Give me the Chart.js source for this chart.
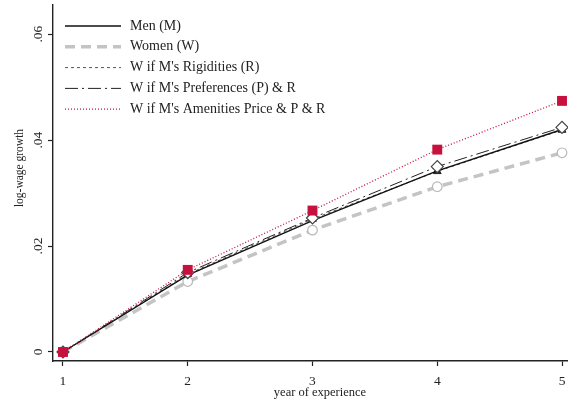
<!DOCTYPE html>
<html>
<head>
<meta charset="utf-8">
<script src="https://cdn.jsdelivr.net/npm/chart.js@4/dist/chart.umd.min.js"></script>
<style>
  html, body { margin: 0; padding: 0; background: #fff; }
  #wrap { width: 568px; height: 407px; position: relative; }
</style>
</head>
<body>
<div id="wrap"><canvas id="chart"></canvas></div>
<script>
// Data
const years = [1, 2, 3, 4, 5];
const yTicks = [0, 0.02, 0.04, 0.06];
const menGrowth = [0, 0.0145, 0.0248, 0.0342, 0.0420];
const womenGrowth = [0, 0.0133, 0.0230, 0.0312, 0.0376];
const rigiditiesGrowth = [0, 0.0147, 0.0251, 0.0341, 0.0419];
const preferencesGrowth = [0, 0.0150, 0.0253, 0.0350, 0.0424];
const amenitiesGrowth = [0, 0.0155, 0.0267, 0.0382, 0.0474];

const serif = '"Liberation Serif", "DejaVu Serif", serif';
const ink = '#222';

const toPoints = (vals) => vals.map((v, i) => ({ x: years[i], y: v }));
const fmtY = (v) => (v === 0 ? '0' : v.toFixed(2).replace(/^0/, ''));

// Stata-like texts: tick labels, axis titles, legend inside plot
const stataText = {
  id: 'stataText',
  afterDraw(chart) {
    const { ctx, chartArea, scales: { x, y } } = chart;
    ctx.save();
    ctx.fillStyle = ink;
    ctx.font = '13.5px ' + serif;

    // y tick labels, reading bottom to top
    yTicks.forEach((v) => {
      ctx.save();
      ctx.translate(42, y.getPixelForValue(v));
      ctx.rotate(-Math.PI / 2);
      ctx.textAlign = 'center';
      ctx.textBaseline = 'alphabetic';
      ctx.fillText(fmtY(v), 0, 0);
      ctx.restore();
    });

    // x tick labels
    ctx.textAlign = 'center';
    ctx.textBaseline = 'alphabetic';
    years.forEach((v) => {
      ctx.fillText(String(v), x.getPixelForValue(v), 385);
    });

    // axis titles
    ctx.font = '11.5px ' + serif;
    ctx.save();
    ctx.translate(23, 168);
    ctx.rotate(-Math.PI / 2);
    ctx.fillText('log-wage growth', 0, 0);
    ctx.restore();
    ctx.font = '12.5px ' + serif;
    ctx.textBaseline = 'middle';
    ctx.fillText('year of experience', 320, 393);

    // legend
    ctx.font = '14px ' + serif;
    ctx.textAlign = 'left';
    chart.data.datasets.forEach((ds, i) => {
      const ly = 26 + i * 20.8;
      const lx = chartArea.left + 12;
      ctx.save();
      ctx.strokeStyle = ds.borderColor;
      ctx.lineWidth = ds.borderWidth;
      ctx.setLineDash(ds.borderDash || []);
      ctx.beginPath();
      ctx.moveTo(lx, ly);
      ctx.lineTo(lx + 56, ly);
      ctx.stroke();
      ctx.restore();
      ctx.fillText(ds.label, lx + 65, ly);
    });
    ctx.restore();
  },
};

const datasets = [
  {
    label: 'Men (M)',
    data: toPoints(menGrowth),
    borderColor: '#111',
    borderWidth: 1.4,
    pointRadius: 0,
    order: 3,
  },
  {
    label: 'Women (W)',
    data: toPoints(womenGrowth),
    borderColor: '#c4c4c4',
    borderWidth: 3.5,
    borderDash: [10, 6],
    pointStyle: 'circle',
    pointRadius: 4.8,
    pointBackgroundColor: '#fff',
    pointBorderColor: '#b8b8b8',
    pointBorderWidth: 1.2,
    order: 5,
  },
  {
    label: "W if M's Rigidities (R)",
    data: toPoints(rigiditiesGrowth),
    borderColor: '#555',
    borderWidth: 1,
    borderDash: [3, 3],
    pointStyle: 'triangle',
    pointRadius: 4.5,
    pointBackgroundColor: '#222',
    pointBorderColor: '#222',
    pointBorderWidth: 1,
    order: 4,
  },
  {
    label: "W if M's Preferences (P) & R",
    data: toPoints(preferencesGrowth),
    borderColor: '#222',
    borderWidth: 1,
    borderDash: [13, 4, 2, 4],
    pointStyle: 'rectRot',
    pointRadius: 6,
    pointBackgroundColor: '#fff',
    pointBorderColor: '#444',
    pointBorderWidth: 1.2,
    order: 2,
  },
  {
    label: "W if M's Amenities Price & P & R",
    data: toPoints(amenitiesGrowth),
    borderColor: '#c8103e',
    borderWidth: 1.3,
    borderDash: [1, 2],
    pointStyle: 'rect',
    pointRadius: 7,
    pointBackgroundColor: '#c8103e',
    pointBorderColor: '#c8103e',
    pointBorderWidth: 0,
    order: 1,
  },
];

new Chart(document.getElementById('chart'), {
  type: 'line',
  data: { datasets },
  plugins: [stataText],
  options: {
    responsive: true,
    maintainAspectRatio: false,
    animation: false,
    layout: { autoPadding: false, padding: { top: 5, right: 0, left: 0, bottom: 0 } },
    elements: { line: { tension: 0, fill: false } },
    scales: {
      x: {
        type: 'linear',
        min: 0.92,
        max: 5.048,
        afterBuildTicks: (s) => { s.ticks = years.map((v) => ({ value: v })); },
        afterFit: (s) => { s.height = 46; },
        grid: { drawOnChartArea: false, drawTicks: true, tickLength: 5, tickColor: ink, tickWidth: 1.2 },
        border: { display: true, color: ink, width: 1.4 },
        ticks: { display: false },
      },
      y: {
        type: 'linear',
        min: -0.0017,
        max: 0.0655,
        afterBuildTicks: (s) => { s.ticks = yTicks.map((v) => ({ value: v })); },
        afterFit: (s) => { s.width = 53; },
        grid: { drawOnChartArea: false, drawTicks: true, tickLength: 5, tickColor: ink, tickWidth: 1.2 },
        border: { display: true, color: ink, width: 1.4 },
        ticks: { display: false },
      },
    },
    plugins: {
      legend: { display: false },
      tooltip: { enabled: false },
    },
  },
});
</script>
</body>
</html>
